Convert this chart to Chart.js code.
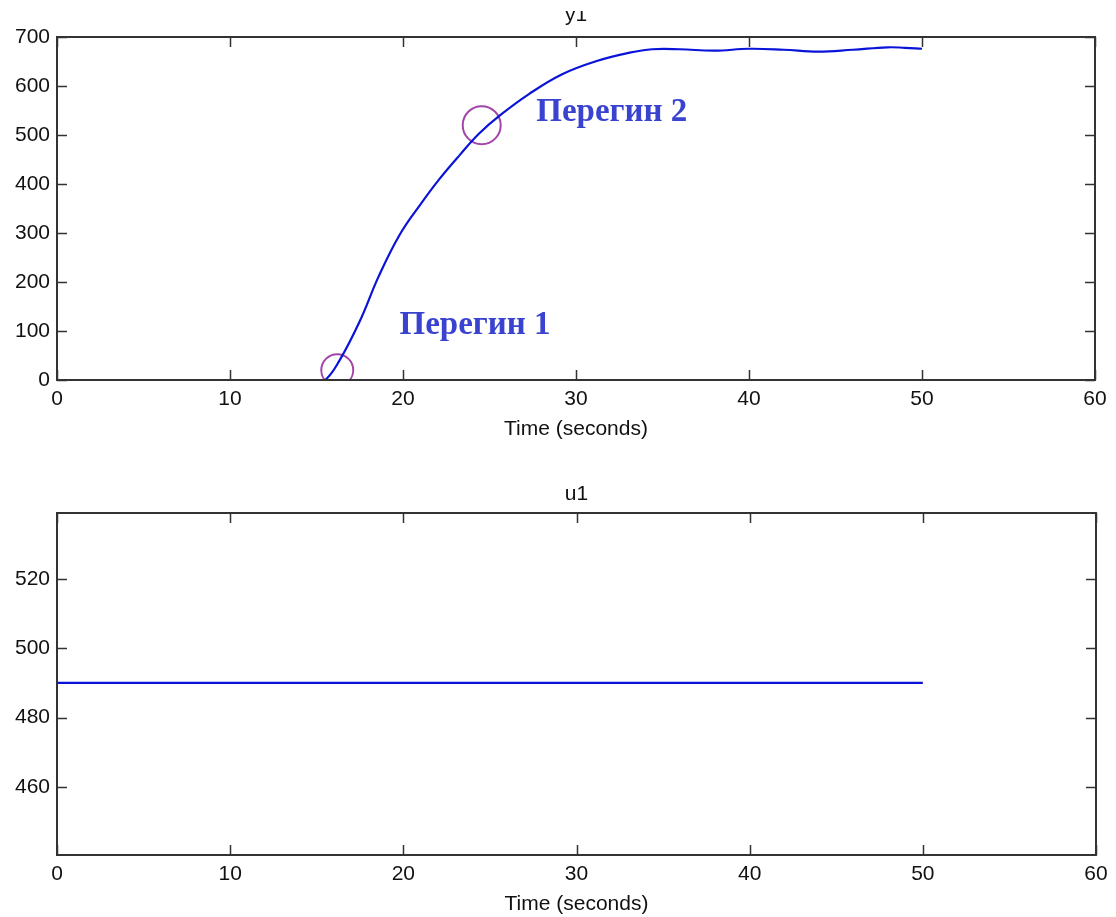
<!DOCTYPE html>
<html>
<head>
<meta charset="utf-8">
<script src="https://cdn.jsdelivr.net/npm/chart.js@4/dist/chart.umd.min.js"></script>
<style>
  html, body { margin: 0; padding: 0; background: #fff; }
  .wrap { position: relative; width: 1116px; }
  #top { display: block; width: 1116px; height: 442px; }
  #bottom { display: block; width: 1116px; height: 475px; }
</style>
</head>
<body>
<div class="wrap">
  <canvas id="top" width="1116" height="442"></canvas>
  <canvas id="bottom" width="1116" height="475"></canvas>
</div>
<script>
// y1 response
let timeY = [0, 5, 10, 15, 15.5, 16.3, 17.5, 18.6, 19.8, 21, 22.1, 23.3, 24.4, 25.6, 27.3, 29.2, 31.2, 33.1, 34.4, 36, 38, 40, 42, 44, 46, 48, 49, 50];
let valuesY = [0, 0, 0, 0, 0, 38, 120, 212, 296, 358, 410, 460, 503, 540, 584, 624, 651, 668, 675, 675, 672, 676, 674, 670, 674, 679, 678, 676];

// u1 input
let timeU = [0, 50];
let valuesU = [490, 490];

// inflection points
let pointX = [16.2, 24.55];
let pointY = [20, 520];
let pointR = [16, 19];

// labels
let labelText = ["Перегин 1", "Перегин 2"];
let labelX = [19.8, 27.7];
let labelY = [112, 547];

let xTicks = [0, 10, 20, 30, 40, 50, 60];
let yTicksTop = [0, 100, 200, 300, 400, 500, 600, 700];
let yTicksBottom = [460, 480, 500, 520];

let font = "'Liberation Sans', Arial, sans-serif";
let lineBlue = "#0a14d8";

function pairs(xs, ys) {
    return xs.map(function (x, i) { return {x: x, y: ys[i]}; });
}

// frame with inside ticks (matlab style)
let framePlugin = {
    id: "frame",
    afterDraw: function (chart, args, opts) {
        let ctx = chart.ctx;
        let a = chart.chartArea;
        let sx = chart.scales.x;
        let sy = chart.scales.y;
        ctx.save();
        ctx.strokeStyle = "#333";
        ctx.lineWidth = 2;
        ctx.strokeRect(a.left, a.top, a.right - a.left, a.bottom - a.top);
        ctx.lineWidth = 1.5;
        ctx.beginPath();
        opts.xTicks.forEach(function (v) {
            let px = Math.round(sx.getPixelForValue(v)) + 0.5;
            ctx.moveTo(px, a.bottom); ctx.lineTo(px, a.bottom - 10);
            ctx.moveTo(px, a.top); ctx.lineTo(px, a.top + 10);
        });
        opts.yTicks.forEach(function (v) {
            let py = Math.round(sy.getPixelForValue(v)) + 0.5;
            ctx.moveTo(a.left, py); ctx.lineTo(a.left + 10, py);
            ctx.moveTo(a.right, py); ctx.lineTo(a.right - 10, py);
        });
        ctx.stroke();

        // title above the axes
        ctx.fillStyle = "#111";
        ctx.font = "21px " + font;
        ctx.textAlign = "center";
        ctx.textBaseline = "alphabetic";
        if (opts.clipTop) {
            ctx.beginPath();
            ctx.rect(0, opts.clipTop, chart.width, chart.height);
            ctx.clip();
        }
        ctx.fillText(opts.title, (a.left + a.right) / 2, opts.titleY);
        ctx.restore();
    }
};

let labelPlugin = {
    id: "labels",
    afterDatasetsDraw: function (chart, args, opts) {
        if (!opts.text) return;
        let ctx = chart.ctx;
        ctx.save();
        ctx.fillStyle = "#3a43cf";
        ctx.font = "bold 33px 'Liberation Serif', 'Times New Roman', serif";
        ctx.textAlign = "left";
        ctx.textBaseline = "middle";
        opts.text.forEach(function (t, i) {
            ctx.fillText(t, chart.scales.x.getPixelForValue(opts.x[i]), chart.scales.y.getPixelForValue(opts.y[i]));
        });
        ctx.restore();
    }
};

function makeOptions(yMin, yMax, yTicks, topPad, title, titleY, clipTop, labels) {
    return {
        responsive: false,
        animation: false,
        layout: {padding: {top: topPad, right: 20, left: 0, bottom: 0}},
        plugins: {
            legend: {display: false},
            tooltip: {enabled: false},
            frame: {xTicks: xTicks, yTicks: yTicks, title: title, titleY: titleY, clipTop: clipTop},
            labels: labels
        },
        scales: {
            x: {
                type: "linear",
                min: 0,
                max: 60,
                afterBuildTicks: function (s) { s.ticks = xTicks.map(function (v) { return {value: v}; }); },
                afterFit: function (s) { s.height = 62; },
                grid: {display: false, drawTicks: false},
                border: {display: false},
                ticks: {color: "#111", font: {size: 21, family: font}, padding: 7, maxRotation: 0, autoSkip: false},
                title: {display: true, text: "Time (seconds)", color: "#111", font: {size: 21, family: font}, padding: {top: 0, bottom: 0}}
            },
            y: {
                type: "linear",
                min: yMin,
                max: yMax,
                afterBuildTicks: function (s) { s.ticks = yTicks.map(function (v) { return {value: v}; }); },
                afterFit: function (s) { s.width = 57; },
                grid: {display: false, drawTicks: false},
                border: {display: false},
                ticks: {color: "#111", font: {size: 21, family: font}, padding: 7, autoSkip: false}
            }
        }
    };
}

new Chart(document.getElementById("top").getContext("2d"), {
    type: "line",
    data: {
        datasets: [{
            data: pairs(timeY, valuesY),
            borderColor: lineBlue,
            borderWidth: 2.2,
            pointRadius: 0,
            tension: 0.4,
            fill: false
        }, {
            type: "scatter",
            data: pairs(pointX, pointY),
            pointRadius: pointR,
            pointStyle: "circle",
            backgroundColor: "rgba(0,0,0,0)",
            borderColor: "#a344a8",
            borderWidth: 2
        }]
    },
    options: makeOptions(0, 700, yTicksTop, 37, "y1", 21, 11, {text: labelText, x: labelX, y: labelY}),
    plugins: [framePlugin, labelPlugin]
});

new Chart(document.getElementById("bottom").getContext("2d"), {
    type: "line",
    data: {
        datasets: [{
            data: pairs(timeU, valuesU),
            borderColor: lineBlue,
            borderWidth: 2.2,
            pointRadius: 0,
            fill: false
        }]
    },
    options: makeOptions(440.4, 539, yTicksBottom, 71, "u1", 58, 0, {}),
    plugins: [framePlugin, labelPlugin]
});
</script>
</body>
</html>
